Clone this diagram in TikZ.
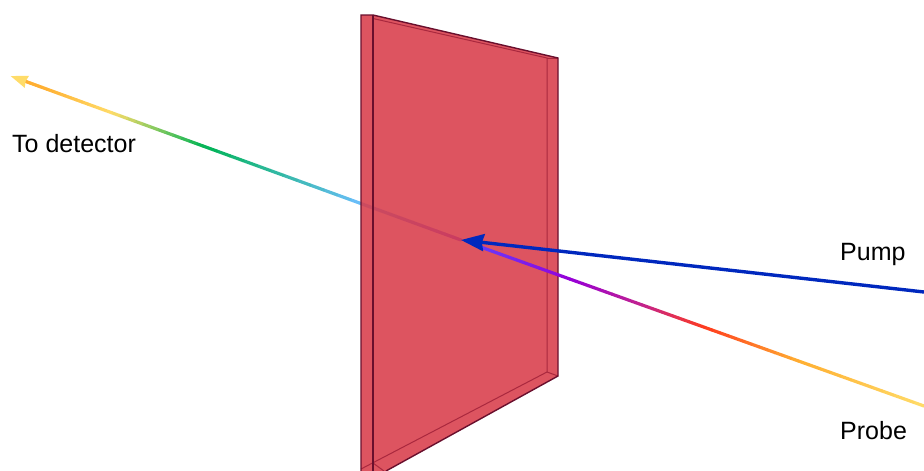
\documentclass[tikz,border=0pt]{standalone}
\usepackage{fontspec}
\setmainfont{Liberation Sans}
\usetikzlibrary{arrows.meta,calc}

\definecolor{slabfill}{RGB}{216,60,74}
\definecolor{slabedge}{RGB}{105,15,45}
\definecolor{slabinner}{RGB}{170,40,62}
\definecolor{pumpblue}{RGB}{0,40,190}
\definecolor{beamviolet}{RGB}{100,60,255}
\definecolor{beamsky}{RGB}{110,190,255}
\definecolor{beamgreen}{RGB}{0,180,85}
\definecolor{beamyellow}{RGB}{255,220,105}
\definecolor{beamorange}{RGB}{255,175,50}
\definecolor{beamred}{RGB}{255,60,30}
\definecolor{beammagenta}{RGB}{195,35,140}
\definecolor{beampurple}{RGB}{150,0,215}

\tikzset{
	beamline/.style={line width=3.2pt, line cap=round},
	label/.style={anchor=base west, inner sep=0pt, font=\fontsize{25}{28}\selectfont},
}

% one stretch of a beam, cut in short pieces: from, to, list of t1/t2/colour1/colour2
\newcommand{\gradbeam}[3]{%
	\foreach \ta/\tb/\ca/\cb in {#3} {
		\foreach \k in {1,...,12} {
			\pgfmathsetmacro{\ra}{\ta+(\tb-\ta)*(\k-1)/12}
			\pgfmathsetmacro{\rb}{\ta+(\tb-\ta)*\k/12}
			\pgfmathsetmacro{\mixval}{100*(\k-0.5)/12}
			\draw[beamline, color=\cb!\mixval!\ca] ($(#1)!\ra!(#2)$) -- ($(#1)!\rb!(#2)$);
		}
	}%
}

\begin{document}
\begin{tikzpicture}[x=1pt, y=-1pt]
	\useasboundingbox (0,0) rectangle (924,471);
	\coordinate (focus) at (461,240);
	\coordinate (dettip) at (10.5,76);
	\coordinate (detneck) at (24,80.8);
	\coordinate (pumpstart) at (924,292);
	\coordinate (probestart) at (924,406);
	\coordinate (probeend) at (476,245.4);

	% beam behind the slab
	\gradbeam{focus}{detneck}{0/.223/beamviolet/beamsky, .223/.59/beamsky/beamgreen, .59/.80/beamgreen/beamyellow, .80/.96/beamyellow/beamorange, .96/1/beamorange/beamorange}
	\draw[line width=3.2pt, beamyellow, -{Stealth[length=17pt, width=12pt, inset=1pt]}] (detneck) -- (dettip);

	% slab
	\coordinate (sa) at (361,15);
	\coordinate (sb) at (373,15);
	\coordinate (sc) at (558,58);
	\coordinate (sd) at (558,376);
	\coordinate (se) at (386,471);
	\coordinate (sf) at (361,471);
	\coordinate (ia) at (373,18.5);
	\coordinate (ib) at (547,58);
	\coordinate (ic) at (547,372);
	\coordinate (id) at (361,469);
	\coordinate (ie) at (373,463);
	\coordinate (ig) at (373,471);
	\fill[slabfill, opacity=0.88] (sa) -- (sb) -- (sc) -- (sd) -- (se) -- (sf) -- cycle;
	\draw[slabinner, line width=1pt] (ia) -- (ib) -- (ic) -- (id);
	\draw[slabinner, line width=1pt] (ib) -- (sc);
	\draw[slabinner, line width=1pt] (ic) -- (sd);
	\draw[slabinner, line width=1pt] (ie) -- (384,471);
	\draw[slabedge, line width=1.2pt] (sb) -- (ig);
	\draw[slabedge, line width=1.4pt] (sf) -- (sa) -- (sb) -- (sc) -- (sd) -- (se);

	% beams in front of the slab
	\gradbeam{probestart}{probeend}{0/.28/beamyellow/beamorange, .28/.49/beamorange/beamred, .49/.63/beamred/beammagenta, .63/.79/beammagenta/beampurple, .79/1/beampurple/beamviolet}
	\draw[line width=3.4pt, pumpblue, -{Stealth[length=23pt, width=17pt, inset=2pt]}] (pumpstart) -- (focus);

	\node[label] (detlabel) at (12,152) {To detector};
	\node[label] (pumplabel) at (840,260) {Pump};
	\node[label] (probelabel) at (840,439.5) {Probe};
\end{tikzpicture}
\end{document}
